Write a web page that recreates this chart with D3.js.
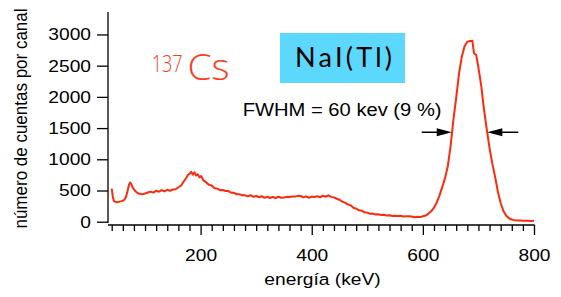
<!DOCTYPE html>
<html>
<head>
<meta charset="utf-8">
<script src="https://cdn.jsdelivr.net/npm/d3@7"></script>
<style>
  body { margin: 0; background: #fff; }
  svg { display: block; }
  text { font-family: "Liberation Sans", Arial, sans-serif; }
</style>
</head>
<body>
<svg width="561" height="297"></svg>
<script>
// energy (keV) and counts per channel
var energy = [40,42,44,47,50,54,58,62,65,68,71,73,75,78,82,86,90,95,100,105,110,115,120,125,130,135,140,145,150,155,160,165,170,174,177,180,183,186,189,192,195,198,201,205,210,215,220,225,230,235,240,245,250,255,260,265,270,275,280,285,290,295,300,305,310,315,320,325,330,335,340,345,350,355,360,365,370,375,380,385,390,395,400,405,410,415,420,425,430,435,440,445,450,455,460,465,470,475,480,485,490,495,500,505,510,515,520,525,530,535,540,545,550,555,560,565,570,575,580,585,590,595,600,605,610,615,620,625,630,635,640,645,650,655,660,665,670,675,680,685,689,692,696,700,705,710,715,720,725,730,735,740,745,750,755,760,765,770,775,780,785,790,795,800];
var counts = [530,400,330,318,312,322,330,345,380,470,590,628,605,545,495,462,448,438,452,468,482,466,496,480,506,486,512,494,516,520,552,580,648,700,748,765,800,755,790,740,758,710,730,665,630,592,580,535,530,505,508,492,490,465,462,440,438,424,422,406,424,398,414,392,408,382,402,380,398,376,400,384,388,398,396,404,402,414,412,390,406,384,402,396,410,390,416,400,422,398,390,368,352,322,306,278,262,224,208,182,176,148,146,128,130,116,120,106,112,98,104,92,96,92,94,84,88,86,82,72,78,74,88,98,130,166,224,308,422,558,702,898,1220,1640,1990,2370,2640,2810,2885,2895,2900,2700,2670,2470,2180,1800,1480,1180,930,720,480,300,170,95,55,35,25,20,18,16,14,15,13,15];

var yTicks = [0,500,1000,1500,2000,2500,3000];
var xMajor = [200,400,600,800];
var xMinor = [40,60,80,100,120,140,160,180,220,240,260,280,300,320,340,360,380,420,440,460,480,500,520,540,560,580,620,640,660,680,700,720,740,760,780];

var fwhmLevel = 1433;          // half maximum
var fwhmEdges = [652, 716];    // keV where the arrows point

var svg = d3.select('svg');
var sx = 1.13; // the original text is a bit stretched sideways

var x = d3.scaleLinear().domain([40, 800]).range([111.7, 534]);
var y = d3.scaleLinear().domain([0, 3360]).range([221.7, 12]);

// y axis
var yAxis = svg.append('g')
	.attr('transform', 'translate(108,0)')
	.call(d3.axisLeft(y).tickValues(yTicks).tickFormat(d3.format('d'))
		.tickSize(11).tickSizeOuter(0).tickPadding(6));
yAxis.select('.domain').remove();
yAxis.append('line')
	.attr('x1', 0).attr('x2', 0)
	.attr('y1', 12).attr('y2', 223)
	.attr('stroke', '#000');
yAxis.selectAll('line').attr('stroke', '#000').attr('stroke-width', 1.3);
yAxis.selectAll('text')
	.attr('x', -17 / sx)
	.attr('transform', 'scale(' + sx + ',1)')
	.style('font-size', '17px')
	.attr('fill', '#000');

// x axis
var xg = svg.append('g').attr('transform', 'translate(0,225)');
xg.append('g')
	.call(d3.axisBottom(x).tickValues(xMinor).tickSize(6).tickFormat(''))
	.select('.domain').remove();
var xAxis = xg.append('g')
	.call(d3.axisBottom(x).tickValues(xMajor).tickSize(10).tickPadding(13.5));
xAxis.select('.domain').remove();
xg.append('line')
	.attr('x1', 108).attr('x2', 534.6)
	.attr('y1', 0).attr('y2', 0);
xg.selectAll('line').attr('stroke', '#000').attr('stroke-width', 1.3);
xAxis.selectAll('text')
	.attr('transform', 'scale(' + sx + ',1)')
	.style('font-size', '17px')
	.attr('fill', '#000');

// axis titles
svg.append('text')
	.attr('transform', 'translate(322.5,285) scale(' + sx + ',1)')
	.attr('text-anchor', 'middle')
	.style('font-size', '17px')
	.text('energía (keV)');

svg.append('text')
	.attr('transform', 'translate(27,118.5) scale(' + sx + ',1) rotate(-90)')
	.attr('text-anchor', 'middle')
	.style('font-size', '17px')
	.text('número de cuentas por canal');

// spectrum
var line = d3.line()
	.x(function(d, i) { return x(energy[i]); })
	.y(function(d) { return y(d); });

svg.append('path')
	.datum(counts)
	.attr('d', line)
	.attr('fill', 'none')
	.attr('stroke', '#ff2a0a')
	.attr('stroke-width', 2)
	.attr('stroke-linejoin', 'round');

// 137Cs
svg.append('text')
	.attr('x', 151.7).attr('y', 71.5)
	.attr('fill', '#ff3b1e')
	.style('font-family', '"Open Sans", Lato, sans-serif')
	.style('font-weight', 300)
	.style('font-size', '24px')
	.attr('textLength', 31).attr('lengthAdjust', 'spacingAndGlyphs')
	.text('137');
svg.append('text')
	.attr('x', 187.5).attr('y', 80)
	.attr('fill', '#ff3b1e')
	.style('font-family', '"Open Sans", Lato, sans-serif')
	.style('font-weight', 300)
	.style('font-size', '37px')
	.attr('textLength', 42).attr('lengthAdjust', 'spacingAndGlyphs')
	.text('Cs');

// NaI(Tl) box
svg.append('rect')
	.attr('x', 280).attr('y', 33)
	.attr('width', 125).attr('height', 50)
	.attr('fill', '#5dd8fd');
svg.append('text')
	.attr('x', 295).attr('y', 66.7)
	.attr('textLength', 97).attr('lengthAdjust', 'spacing')
	.style('font-family', 'Lato, "Open Sans", sans-serif')
	.style('font-size', '27px')
	.attr('fill', '#000')
	.text('NaI(Tl)');

// FWHM
svg.append('text')
	.attr('transform', 'translate(242.7,116) scale(1.09,1)')
	.style('font-size', '18.5px')
	.attr('fill', '#000')
	.text('FWHM = 60 kev (9 %)');

var ay = y(fwhmLevel);
function arrow(tail, tip) {
	var dir = tip > tail ? 1 : -1;
	svg.append('line')
		.attr('x1', tail).attr('x2', tip - dir * 8)
		.attr('y1', ay).attr('y2', ay)
		.attr('stroke', '#000').attr('stroke-width', 1.5);
	svg.append('path')
		.attr('d', 'M' + tip + ',' + ay + 'L' + (tip - dir * 15) + ',' + (ay - 4) +
			'L' + (tip - dir * 15) + ',' + (ay + 4) + 'Z')
		.attr('fill', '#000');
}
arrow(421.7, x(fwhmEdges[0]));
arrow(518.3, x(fwhmEdges[1]));
</script>
</body>
</html>
